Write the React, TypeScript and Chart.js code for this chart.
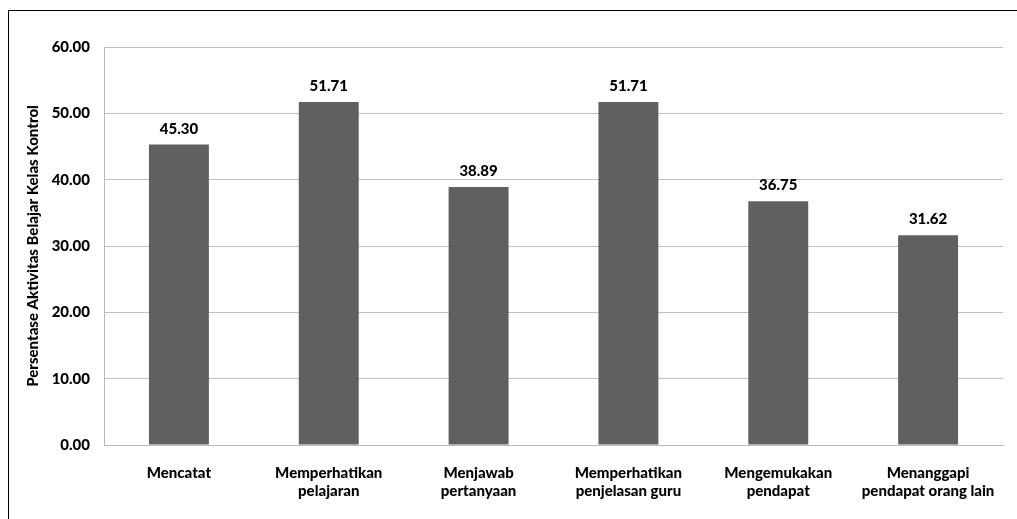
import React, { useEffect, useRef } from "react";
import { Chart, registerables } from "chart.js";

Chart.register(...registerables);

const categories: (string | string[])[] = [
  "Mencatat",
  ["Memperhatikan", "pelajaran"],
  ["Menjawab", "pertanyaan"],
  ["Memperhatikan", "penjelasan guru"],
  ["Mengemukakan", "pendapat"],
  ["Menanggapi", "pendapat orang lain"],
];
const values: number[] = [45.3, 51.71, 38.89, 51.71, 36.75, 31.62];
const yTitle = "Persentase Aktivitas Belajar Kelas Kontrol";

const FONT = "Lato, 'Open Sans', sans-serif";
const W = 900;

const dataLabels = {
  id: "dataLabels",
  afterDatasetsDraw(chart: any) {
    const ctx = chart.ctx;
    const meta = chart.getDatasetMeta(0);
    ctx.save();
    ctx.font = `${W} 15px ${FONT}`;
    ctx.fillStyle = "#000";
    ctx.textAlign = "center";
    ctx.textBaseline = "alphabetic";
    meta.data.forEach((el: any, i: number) => {
      ctx.fillText(values[i].toFixed(2), el.x, el.y - 11);
    });
    ctx.restore();
  },
};

export default function App() {
  const ref = useRef<HTMLCanvasElement>(null);
  useEffect(() => {
    if (!ref.current) return;
    const chart = new Chart(ref.current, {
      type: "bar",
      data: {
        labels: categories,
        datasets: [
          {
            data: values,
            backgroundColor: "#606060",
            barPercentage: 0.4,
            categoryPercentage: 1,
          },
        ],
      },
      options: {
        animation: false,
        responsive: false,
        maintainAspectRatio: false,
        layout: { padding: { left: 20, right: 14, top: 47, bottom: 6 } },
        plugins: { legend: { display: false }, tooltip: { enabled: false } },
        scales: {
          x: {
            grid: { display: false, drawTicks: false },
            border: { display: true, color: "#b8b8b8", width: 1 },
            ticks: {
              color: "#000",
              font: { family: FONT, size: 15, weight: W as any, lineHeight: 1.15 },
              padding: 20,
              maxRotation: 0,
              autoSkip: false,
            },
            afterFit: (s: any) => {
              s.height = 68;
            },
          },
          y: {
            min: 0,
            max: 60,
            ticks: {
              stepSize: 10,
              color: "#000",
              font: { family: FONT, size: 15, weight: W as any },
              padding: 14,
              callback: (v: any) => Number(v).toFixed(2),
            },
            grid: { color: "#c0c0c0", drawTicks: false },
            border: { display: true, color: "#b8b8b8" },
            title: {
              display: true,
              text: yTitle,
              color: "#000",
              font: { family: FONT, size: 15, weight: W as any },
            },
            afterFit: (s: any) => {
              s.width = 84;
            },
          },
        },
      },
      plugins: [dataLabels],
    });
    return () => chart.destroy();
  }, []);
  return (
    <div
      style={{
        position: "fixed",
        left: 0,
        top: 0,
        width: 1017,
        height: 519,
        overflow: "hidden",
        background: "#fff",
      }}
    >
      <div
        style={{
          position: "absolute",
          left: 8,
          top: 10,
          width: 1030,
          height: 530,
          border: "1px solid #000",
          boxSizing: "border-box",
        }}
      />
      <canvas
        ref={ref}
        width={1017}
        height={519}
        style={{ position: "absolute", left: 0, top: 0, width: 1017, height: 519 }}
      />
    </div>
  );
}
